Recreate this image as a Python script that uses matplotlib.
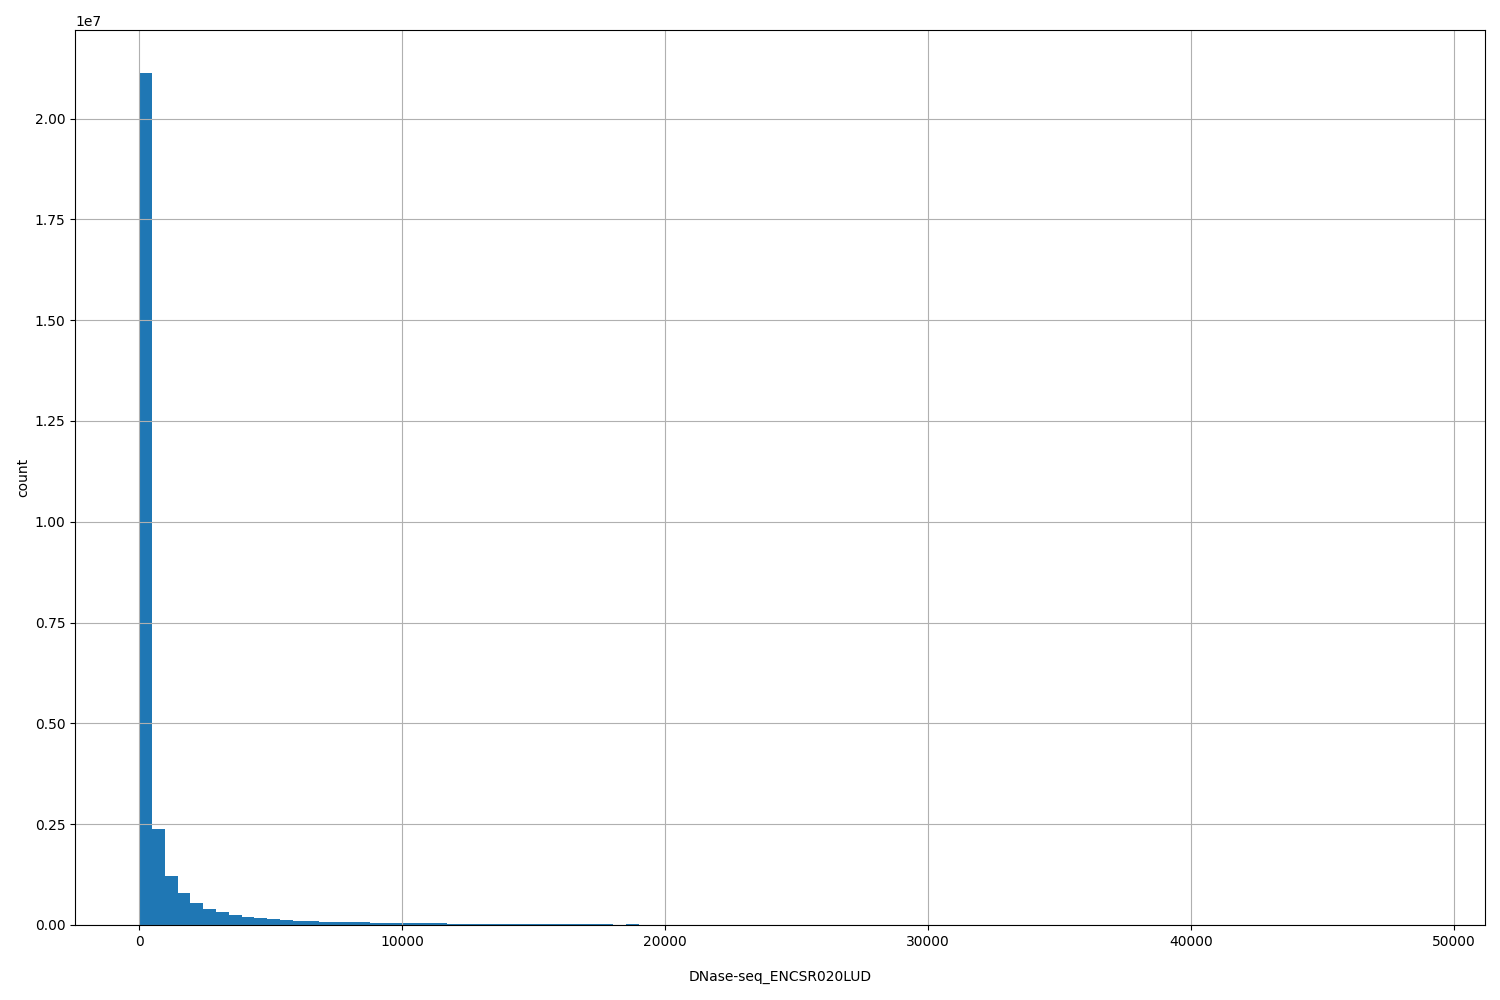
import numpy as np
import matplotlib.pyplot as plt

# histogram counts (100 bins over 0..48740)
x_max = 48740
n_bins = 100
counts = [21.14e6, 2.38e6, 1.22e6, 0.79e6, 0.55e6, 0.40e6, 0.32e6, 0.25e6,
          0.21e6, 0.17e6, 0.15e6, 0.12e6, 0.10e6, 0.10e6,
          0.075e6, 0.075e6, 0.075e6, 0.075e6,
          0.05e6, 0.05e6, 0.05e6, 0.05e6, 0.05e6, 0.05e6,
          0.025e6, 0.025e6, 0.025e6, 0.025e6, 0.025e6, 0.025e6, 0.025e6,
          0.025e6, 0.025e6, 0.025e6, 0.025e6, 0.025e6, 0.025e6,
          0, 0.025e6]
counts = counts + [0] * (n_bins - len(counts))
x_label = "DNase-seq_ENCSR020LUD"

edges = np.linspace(0, x_max, n_bins + 1)
centers = (edges[:-1] + edges[1:]) / 2

fig = plt.figure(figsize=(15, 10), dpi=100)
ax = fig.add_axes([0.05, 0.075, 0.94, 0.895])
ax.hist(centers, bins=edges, weights=counts, color='#1f77b4')
ax.grid(True)
ax.set_xlabel(x_label, labelpad=15)
ax.set_ylabel("count", labelpad=3)

fig.savefig("out.png")
plt.close(fig)
